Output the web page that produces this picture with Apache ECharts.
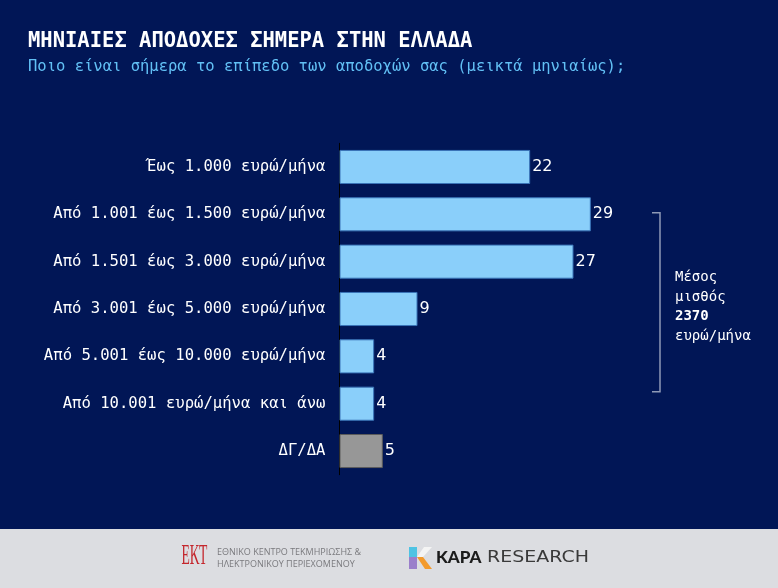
<!DOCTYPE html>
<html>
<head>
<meta charset="utf-8">
<script src="https://cdn.jsdelivr.net/npm/echarts@6/dist/echarts.min.js"></script>
<style>
html,body{margin:0;padding:0;background:#011656;}
#chart{width:778px;height:588px;}
</style>
</head>
<body>
<div id="chart"></div>
<script>
var categories = [
  'Έως 1.000 ευρώ/μήνα',
  'Από 1.001 έως 1.500 ευρώ/μήνα',
  'Από 1.501 έως 3.000 ευρώ/μήνα',
  'Από 3.001 έως 5.000 ευρώ/μήνα',
  'Από 5.001 έως 10.000 ευρώ/μήνα',
  'Από 10.001 ευρώ/μήνα και άνω',
  'ΔΓ/ΔΑ'
];
var values = [22, 29, 27, 9, 4, 4, 5];
var noAnswerIndex = [6];
var titleText = 'ΜΗΝΙΑΙΕΣ ΑΠΟΔΟΧΕΣ ΣΗΜΕΡΑ ΣΤΗΝ ΕΛΛΑΔΑ';
var subtitleText = 'Ποιο είναι σήμερα το επίπεδο των αποδοχών σας (μεικτά μηνιαίως);';
var meanSalary = 2370;

var chart = echarts.init(document.getElementById('chart'), null, {renderer: 'canvas'});

var seriesData = values.map(function (v, i) {
  var isNA = noAnswerIndex.indexOf(i) >= 0;
  return {
    value: v,
    itemStyle: isNA
      ? {color: '#979797', borderColor: '#5c5c5c', borderWidth: 1}
      : {color: '#8acffa', borderColor: '#3a74b8', borderWidth: 1}
  };
});

var mono = '"DejaVu Sans Mono", "Liberation Mono", monospace';

chart.setOption({
  backgroundColor: '#011656',
  animation: false,
  title: [{
    text: titleText,
    left: 28,
    top: 31,
    padding: 0,
    textStyle: {color: '#ffffff', fontFamily: mono, fontWeight: 'bold', fontSize: 20.5}
  }, {
    text: subtitleText,
    left: 28,
    top: 59,
    padding: 0,
    textStyle: {color: '#62c0f5', fontFamily: mono, fontWeight: 'normal', fontSize: 15.5}
  }],
  grid: {left: 339.5, top: 143.3, height: 331.4, width: 260, containLabel: false},
  xAxis: {
    type: 'value', min: 0, max: 30, show: false
  },
  yAxis: {
    type: 'category',
    data: categories,
    inverse: true,
    axisLine: {show: true, lineStyle: {color: '#000000', width: 1}},
    axisTick: {show: false},
    axisLabel: {color: '#ffffff', fontFamily: mono, fontSize: 15.6, margin: 14}
  },
  series: [{
    type: 'bar',
    data: seriesData,
    barCategoryGap: '28%',
    label: {
      show: true,
      position: 'right',
      distance: 2,
      color: '#ffffff',
      fontFamily: '"DejaVu Sans", sans-serif',
      fontSize: 16
    }
  }],
  graphic: [
    // bracket
    {type: 'polyline', shape: {points: [[652, 212.7], [660, 212.7], [660, 391.7], [652, 391.7]]},
      style: {stroke: '#8e99b6', lineWidth: 1.5, fill: null}},
    {type: 'text', x: 675, y: 268,
      style: {
        x: 0, y: 0,
        text: '{n|Μέσος}\n{n|μισθός}\n{b|' + meanSalary + '}\n{n|ευρώ/μήνα}',
        rich: {
          n: {fill: '#ffffff', font: '14px ' + mono, lineHeight: 19.5},
          b: {fill: '#ffffff', font: 'bold 14px ' + mono, lineHeight: 19.5}
        }
      }},
    // footer
    {type: 'rect', shape: {x: 0, y: 529, width: 778, height: 59}, style: {fill: '#dcdde1'}},
    {type: 'text', x: 181.5, y: 542, scaleX: 0.47,
      style: {x: 0, y: 0, text: 'ΕΚΤ', fill: '#c4262c', font: '29px "Liberation Serif", serif'}},
    {type: 'text', x: 217, y: 546,
      style: {x: 0, y: 0, text: 'ΕΘΝΙΚΟ ΚΕΝΤΡΟ ΤΕΚΜΗΡΙΩΣΗΣ &\nΗΛΕΚΤΡΟΝΙΚΟΥ ΠΕΡΙΕΧΟΜΕΝΟΥ', fill: '#7a7a7e',
        font: '9px "Open Sans", sans-serif', lineHeight: 12}},
    // K icon
    {type: 'polygon', shape: {points: [[409, 547], [417, 547], [417, 557], [409, 557]]}, style: {fill: '#4fc3e3'}},
    {type: 'polygon', shape: {points: [[409, 557], [417, 557], [417, 569], [409, 569]]}, style: {fill: '#9a7fcb'}},
    {type: 'polygon', shape: {points: [[417, 557], [423, 557], [432, 569], [425, 569]]}, style: {fill: '#f39a2c'}},
    {type: 'polygon', shape: {points: [[417, 557], [424, 547], [432, 547], [423, 557]]}, style: {fill: '#f4f4f4'}},
    {type: 'text', x: 436, y: 549,
      style: {x: 0, y: 0, text: 'KAPA', fill: '#1c1c1c', font: '900 17px Lato, "Open Sans", sans-serif'}},
    {type: 'text', x: 487, y: 549, scaleX: 1.15,
      style: {x: 0, y: 0, text: 'RESEARCH', fill: '#3a3a3a', font: '16.5px "DejaVu Sans", sans-serif'}}
  ]
});
</script>
</body>
</html>
